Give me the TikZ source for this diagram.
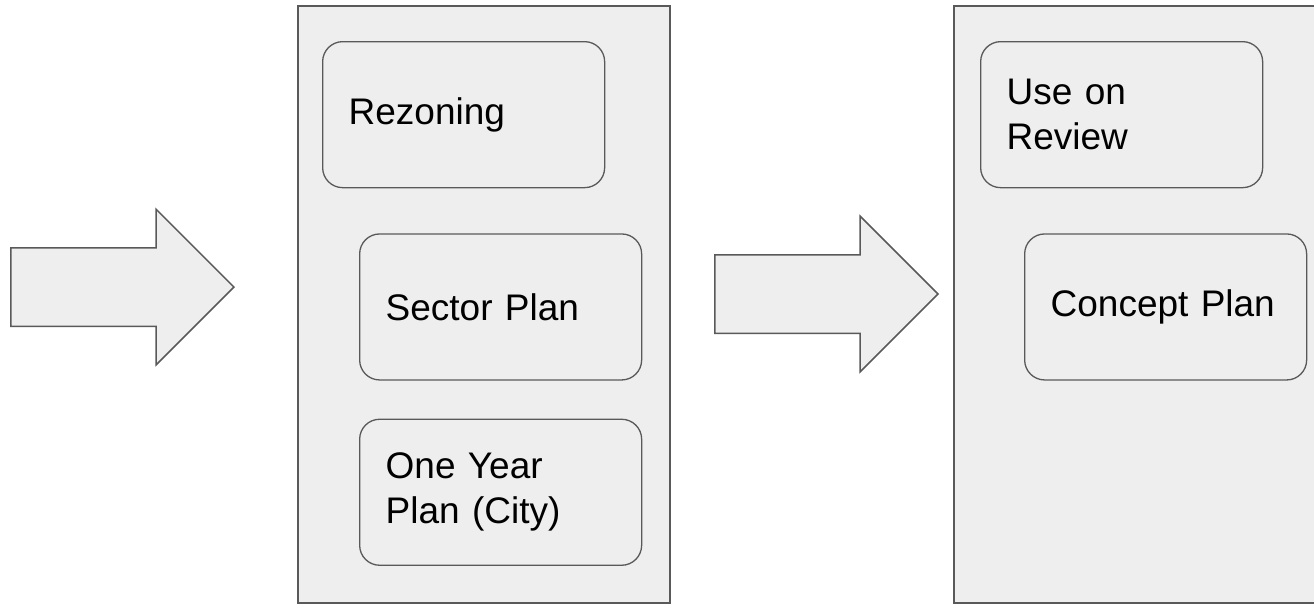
\documentclass[tikz,border=0pt]{standalone}
\usepackage{fontspec}
\setmainfont{Liberation Sans}
\usepackage{xcolor}
\usetikzlibrary{shapes.arrows, positioning}
\definecolor{panelgray}{HTML}{EEEEEE}
\definecolor{edgegray}{HTML}{595959}

\begin{document}
\begin{tikzpicture}[
        x=1pt, y=1pt,
        panel/.style={rectangle, draw=edgegray, fill=panelgray, line width=1.5pt, minimum width=372pt, minimum height=597pt, inner sep=0pt},
        stage/.style={rectangle, rounded corners=20pt, draw=edgegray, fill=panelgray, line width=1.3pt, text width=230pt, inner xsep=26pt, minimum height=146pt, align=left, font=\fontsize{37}{45}\selectfont},
        flow/.style={single arrow, draw=edgegray, fill=panelgray, line width=1.5pt, minimum height=223pt, inner xsep=0pt, inner ysep=38.5pt, single arrow head extend=38.5pt, anchor=tip}
    ]
    \useasboundingbox (0,0) rectangle (1314,-603);
    \node (panelA) [panel, anchor=north west] at (297,-5) {};
    \node (panelB) [panel, anchor=north west, minimum width=380pt] at (953,-5) {};

    \node (rezoning) [stage, below right=36pt and 25pt of panelA.north west] {Rezoning};
    \node (sector) [stage, below right=45pt and 37pt of rezoning.south west] {Sector Plan};
    \node (oneyear) [stage, below=38pt of sector] {One Year\\Plan (City)};

    \node (review) [stage, below right=36pt and 27pt of panelB.north west] {Use on\\Review};
    \node (concept) [stage, below right=45pt and 44pt of review.south west] {Concept Plan};

    \node (inflow) [flow] at (235,-287) {};
    \node (midflow) [flow] at (939,-294) {};
\end{tikzpicture}
\end{document}
